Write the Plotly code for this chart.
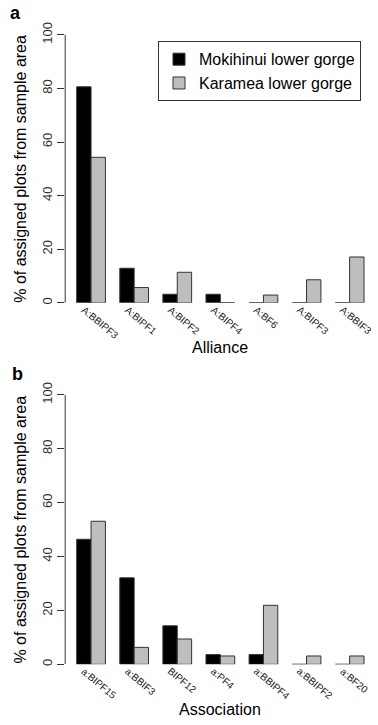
import plotly.graph_objects as go

# ---------------- data ----------------
alliance = ["A:BBIPF3", "A:BIPF1", "A:BIPF2", "A:BIPF4", "A:BF6", "A:BIPF3", "A:BBIF3"]
alliance_mok = [80.6, 12.9, 3.2, 3.2, 0, 0, 0]
alliance_kar = [54.3, 5.7, 11.4, 0, 2.9, 8.6, 17.1]

association = ["a:BIPF15", "a:BBIF3", "BIPF12", "a:PF4", "a:BBIPF4", "a:BBIPF2", "a:BF20"]
association_mok = [46.4, 32.1, 14.3, 3.6, 3.6, 0, 0]
association_kar = [53.1, 6.3, 9.4, 3.1, 21.9, 3.1, 3.1]

series_names = ["Mokihinui lower gorge", "Karamea lower gorge"]
y_ticks = [0, 20, 40, 60, 80, 100]

W, H = 378, 725
FONT = "Liberation Sans, Arial, sans-serif"
LINE = "#333333"
GRAY = "#BEBEBE"

def px_x(p):
    return p / W

def px_y(p):
    return 1 - p / H

fig = go.Figure()

panels = [
    (alliance, alliance_mok, alliance_kar, "x", "y", True),
    (association, association_mok, association_kar, "x2", "y2", False),
]
for cats, mok, kar, xa, ya, show in panels:
    idx = list(range(len(cats)))
    fig.add_trace(go.Bar(x=idx, y=mok, name=series_names[0], xaxis=xa, yaxis=ya,
                         marker=dict(color="black", line=dict(color=LINE, width=1)),
                         showlegend=show, legendgroup="m", cliponaxis=False))
    fig.add_trace(go.Bar(x=idx, y=kar, name=series_names[1], xaxis=xa, yaxis=ya,
                         marker=dict(color=GRAY, line=dict(color=LINE, width=1)),
                         showlegend=show, legendgroup="k", cliponaxis=False))
    # rotated category labels (R-style, reading down to the right)
    for i, c in enumerate(cats):
        fig.add_annotation(xref=xa, yref=ya, x=i, y=0, text=c, textangle=40,
                           showarrow=False, xanchor="left", yanchor="top",
                           xshift=-14.5, yshift=1.5,
                           font=dict(family=FONT, size=10, color="#222222"))

xdom = [px_x(65.2), px_x(375.5)]
common_x = dict(range=[-0.6, 6.6], domain=xdom, showline=False, zeroline=False,
                showgrid=False, ticks="", showticklabels=False)
common_y = dict(range=[0, 104], showline=False, zeroline=False, showgrid=False,
                tickvals=y_ticks, ticks="outside", ticklen=7, tickcolor=LINE,
                tickangle=-90, tickfont=dict(family=FONT, size=13, color="#333333"))

fig.update_layout(
    width=W, height=H,
    margin=dict(l=0, r=0, t=0, b=0),
    paper_bgcolor="white", plot_bgcolor="white",
    barmode="group", bargap=1/3, bargroupgap=0,
    font=dict(family=FONT, color="black"),
    xaxis=dict(common_x, anchor="y"),
    yaxis=dict(common_y, anchor="x", domain=[px_y(302.5), px_y(22.2)]),
    xaxis2=dict(common_x, anchor="y2"),
    yaxis2=dict(common_y, anchor="x2", domain=[px_y(666), px_y(384.2)]),
    legend=dict(x=px_x(158), y=px_y(39.5), xanchor="left", yanchor="top",
                bordercolor=LINE, borderwidth=1, bgcolor="white",
                font=dict(family=FONT, size=16, color="black"),
                traceorder="normal"),
    showlegend=True,
)

# y axis lines from 0 to 100
for xr, yr in [("x domain", "y"), ("x2 domain", "y2")]:
    fig.add_shape(type="line", xref=xr, yref=yr, x0=0, x1=0, y0=0, y1=100,
                  line=dict(color=LINE, width=1))

ann = []
ytitle = "% of assigned plots from sample area"
ann.append(dict(text=ytitle, x=px_x(21), y=px_y(167.7), textangle=-90))
ann.append(dict(text=ytitle, x=px_x(21), y=px_y(530.5), textangle=-90))
ann.append(dict(text="Alliance", x=px_x(220.4), y=px_y(347), textangle=0))
ann.append(dict(text="Association", x=px_x(220.4), y=px_y(711.7), textangle=0))
for a in ann:
    fig.add_annotation(xref="paper", yref="paper", x=a["x"], y=a["y"], text=a["text"],
                       textangle=a["textangle"], showarrow=False,
                       xanchor="center", yanchor="middle",
                       font=dict(family=FONT, size=16, color="black"))
for letter, xp, yp in [("a", 15, 11), ("b", 17, 374)]:
    fig.add_annotation(xref="paper", yref="paper", x=px_x(xp), y=px_y(yp),
                       text="<b>%s</b>" % letter, showarrow=False,
                       xanchor="center", yanchor="middle",
                       font=dict(family=FONT, size=18, color="black"))

fig.write_html("out.html", config={"displayModeBar": False},
               post_script="document.body.style.margin='0px';document.body.style.overflow='hidden';")
